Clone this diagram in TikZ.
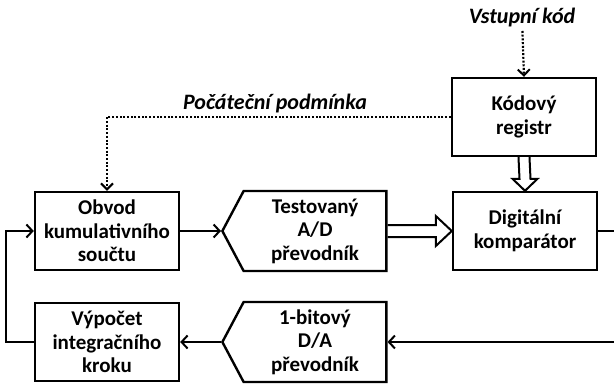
\documentclass[tikz,border=0pt]{standalone}
\usepackage{fontspec}
\setmainfont{Carlito}
\usetikzlibrary{arrows.meta}
\usetikzlibrary{calc}
\usetikzlibrary{shapes.symbols}

\begin{document}
\begin{tikzpicture}[
    x=1pt, y=-1pt,
    block/.style={draw, line width=2.4pt, minimum width=144pt, minimum height=78pt, align=center, font=\fontsize{21}{23.5}\selectfont\bfseries},
    converter/.style={draw, line width=2.4pt, shape=signal, signal to=west, signal pointer angle=124, minimum width=164pt, minimum height=80pt, inner sep=1pt, align=center, font=\fontsize{21}{23.5}\selectfont\bfseries},
    signal line/.style={line width=2pt, -{Straight Barb[length=6pt, width=13pt, line width=2pt]}},
    dotted line/.style={line width=2.2pt, dash pattern=on 2pt off 1.7pt, -{Straight Barb[length=6pt, width=12pt, line width=2pt]}},
    hollow/.style={line width=2pt, line join=miter},
    label/.style={font=\fontsize{22}{24}\selectfont\bfseries\itshape}
    ]

    \useasboundingbox (0,0) rectangle (614,384);

    % blocks
    \node[block] (ocs) at (107,231) {Obvod\\kumulativního\\součtu};
    \node[block] (vik) at (107,342) {Výpočet\\integračního\\kroku};
    \node[block] (kr) at (524,117) {Kódový\\registr};
    \node[block] (dk) at (525,231) {Digitální\\komparátor};
    \node[converter] (tad) at (315,231) {Testovaný\\A/D\\převodník};
    \node[converter] (dad) at (315,342) {1-bitový\\D/A\\převodník};
    % labels
    \node[label] (vstup) at (522,18) {Vstupní kód};
    \node[label] (pocpod) at (275,104) {Počáteční podmínka};
    % loop ends at the right edge
    \coordinate (dkout) at (614,231);
    \coordinate (dain) at (614,342);

    % dotted lines
    \draw[dotted line] (vstup) -- (kr.north);
    \draw[dotted line] (kr.west) -| (ocs.north);
    % signal lines
    \draw[signal line] (ocs.east) -- (tad.west);
    \draw[line width=2pt] (dk.east) -- (dkout);
    \draw[signal line] (dain) -- (dad.east);
    \draw[signal line] (dad.west) -- (vik.east);
    \draw[signal line] (vik.west) -- ++(-28,0) |- (ocs.west);
    % hollow data arrows
    \draw[hollow] ($(tad.east)+(0,-6)$) -- ($(dk.west)+(-16,-6)$) -- ($(dk.west)+(-16,-15)$)
        -- (dk.west) -- ($(dk.west)+(-16,15)$) -- ($(dk.west)+(-16,6)$) -- ($(tad.east)+(0,6)$);
    \draw[hollow] ($(kr.south)+(-5.5,0)$) -- ($(dk.north)+(-5.5,-12)$) -- ($(dk.north)+(-12.5,-12)$)
        -- (dk.north) -- ($(dk.north)+(12.5,-12)$) -- ($(dk.north)+(5.5,-12)$) -- ($(kr.south)+(5.5,0)$);

\end{tikzpicture}
\end{document}
